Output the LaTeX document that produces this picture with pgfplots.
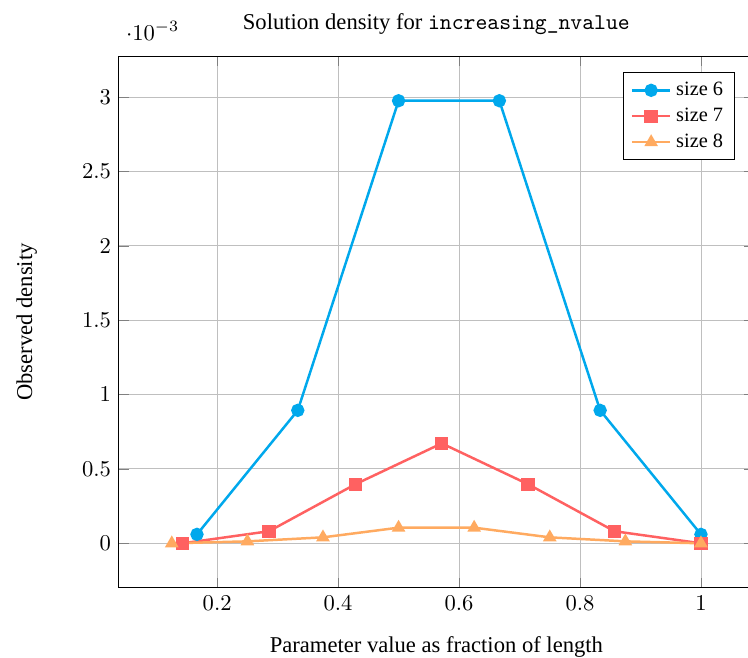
\documentclass[border=0pt]{standalone}
\usepackage{fontspec}
\setmainfont{Liberation Serif}
\usepackage{pgfplots}
\pgfplotsset{compat=1.18}
\definecolor{cblue}{RGB}{0,168,236}
\definecolor{cred}{RGB}{255,97,97}
\definecolor{corange}{RGB}{255,170,96}
\begin{document}
\begin{tikzpicture}
\begin{axis}[
    scale only axis,
    width=281pt, height=235pt,
    title={Solution density for \texttt{increasing\_nvalue}},
    xlabel={Parameter value as fraction of length},
    ylabel={Observed density},
    xlabel shift=5pt,
    ylabel shift=13pt,
    xtick={0.2,0.4,0.6,0.8,1},
    grid=major,
    legend pos=north east,
    legend cell align=left,
    legend style={font=\small},
    every axis plot/.append style={line width=1.1pt, mark size=2.4pt},
]
\addplot[cblue, mark=*] coordinates {
  (0.16667,0.00006) (0.33333,0.000894) (0.5,0.002976)
  (0.66667,0.002976) (0.83333,0.000894) (1,0.00006)
};
\addplot[cred, mark=square*] coordinates {
  (0.14286,0.0) (0.28571,0.000081) (0.42857,0.000397) (0.57143,0.000672)
  (0.71429,0.000397) (0.85714,0.000081) (1,0.0)
};
\addplot[corange, mark=triangle*] coordinates {
  (0.125,0.0) (0.25,0.000013) (0.375,0.00004) (0.5,0.000105)
  (0.625,0.000105) (0.75,0.00004) (0.875,0.000013) (1,0.0)
};
\legend{size 6, size 7, size 8}
\end{axis}
\pgfresetboundingbox
\useasboundingbox (current axis.south west) ++(-52.6pt,-31pt) rectangle ++(331pt,291pt);
\end{tikzpicture}
\end{document}
